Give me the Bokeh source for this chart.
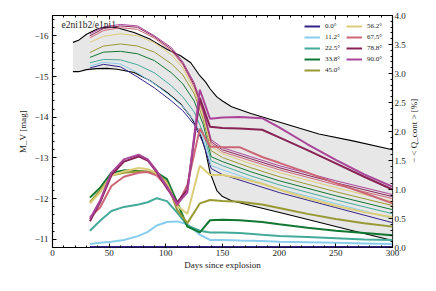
from bokeh.plotting import figure
from bokeh.layouts import row
from bokeh.models import (Range1d, LinearAxis, SingleIntervalTicker, CustomJSTickFormatter,
                          Legend, LegendItem, Label, Div)
from bokeh.embed import file_html
from bokeh.resources import INLINE

# ---------------- data ----------------
angles = ["0.0°", "11.2°", "22.5°", "33.8°", "45.0°", "56.2°", "67.5°", "78.8°", "90.0°"]
colors = ["#332288", "#88CCEE", "#44AA99", "#117733", "#999933",
          "#DDCC77", "#CC6677", "#882255", "#AA4499"]

# envelope (black curves, gray band), magnitudes
env_days = [18, 23, 30, 39, 48, 57, 72, 86, 101, 113, 122, 130, 135, 139, 145, 150, 158, 175, 205, 235, 265, 300]
env_upper = [-15.84, -15.89, -16.04, -16.16, -16.22, -16.20, -16.08, -15.92, -15.67, -15.51, -15.34, -15.02,
             -14.87, -14.70, -14.50, -14.40, -14.26, -14.09, -13.84, -13.59, -13.42, -13.20]
env_lower = [-15.12, -15.12, -15.17, -15.195, -15.20, -15.18, -15.10, -14.90, -14.61, -14.33, -14.01, -13.62,
             -13.18, -12.64, -12.20, -12.05, -11.95, -11.83, -11.63, -11.42, -11.21, -10.97]

# magnitudes per viewing angle (thin lines)
mag_days = [33, 45, 60, 75, 90, 105, 115, 125, 133, 140, 150, 175, 200, 250, 300]
mag_000 = [-15.21, -15.30, -15.24, -14.99, -14.72, -14.40, -14.16, -13.82, -13.37, -12.74, -12.59, -12.37, -12.15, -11.78, -11.41]
mag_112 = [-15.26, -15.35, -15.31, -15.09, -14.82, -14.50, -14.26, -13.91, -13.47, -12.81, -12.71, -12.47, -12.24, -11.88, -11.51]
mag_225 = [-15.34, -15.42, -15.41, -15.29, -15.09, -14.77, -14.50, -14.13, -13.62, -12.93, -12.81, -12.56, -12.34, -11.97, -11.63]
mag_338 = [-15.47, -15.60, -15.62, -15.56, -15.39, -15.09, -14.82, -14.40, -13.82, -13.03, -12.91, -12.66, -12.44, -12.07, -11.73]
mag_450 = [-15.59, -15.75, -15.80, -15.75, -15.60, -15.31, -15.04, -14.58, -13.94, -13.18, -13.01, -12.76, -12.54, -12.17, -11.83]
mag_562 = [-15.84, -15.99, -16.05, -16.00, -15.83, -15.53, -15.21, -14.67, -14.04, -13.28, -13.10, -12.86, -12.64, -12.27, -11.93]
mag_675 = [-15.95, -16.13, -16.20, -16.16, -15.94, -15.63, -15.29, -14.75, -14.11, -13.35, -13.15, -12.93, -12.71, -12.34, -12.00]
mag_788 = [-16.00, -16.18, -16.245, -16.21, -15.975, -15.67, -15.325, -14.80, -14.16, -13.40, -13.20, -12.98, -12.76, -12.39, -12.05]
mag_900 = [-16.05, -16.22, -16.28, -16.245, -16.00, -15.71, -15.36, -14.85, -14.21, -13.45, -13.25, -13.03, -12.81, -12.44, -12.10]

# continuum polarisation -<Q_cont> [%] per viewing angle (thick lines)
q_days = [33, 42, 52, 63, 76, 84, 92, 101, 110, 119, 130, 139, 150, 165, 185, 200, 225, 250, 275, 300]
q_000 = [0.01] * 20
q_112 = [0.06, 0.08, 0.10, 0.13, 0.20, 0.27, 0.38, 0.44, 0.45, 0.40, 0.22, 0.13, 0.13, 0.12, 0.11, 0.10, 0.09, 0.08, 0.07, 0.06]
q_225 = [0.29, 0.46, 0.63, 0.70, 0.74, 0.78, 0.85, 0.80, 0.60, 0.38, 0.29, 0.26, 0.26, 0.25, 0.22, 0.20, 0.18, 0.16, 0.14, 0.13]
q_338 = [0.86, 1.03, 1.29, 1.33, 1.32, 1.30, 1.29, 1.18, 0.78, 0.36, 0.26, 0.47, 0.48, 0.47, 0.44, 0.40, 0.34, 0.29, 0.25, 0.21]
q_450 = [0.78, 0.98, 1.24, 1.29, 1.31, 1.31, 1.29, 1.12, 0.65, 0.42, 0.76, 0.82, 0.80, 0.79, 0.74, 0.68, 0.58, 0.49, 0.42, 0.36]
q_562 = [0.76, 0.95, 1.24, 1.31, 1.37, 1.35, 1.28, 1.10, 0.72, 0.58, 1.41, 1.25, 1.25, 1.20, 1.10, 1.00, 0.85, 0.72, 0.61, 0.52]
q_675 = [0.52, 0.69, 1.06, 1.22, 1.29, 1.30, 1.24, 1.05, 0.72, 1.08, 2.05, 1.74, 1.73, 1.73, 1.56, 1.46, 1.29, 1.11, 0.94, 0.76]
q_788 = [0.45, 0.78, 1.25, 1.48, 1.57, 1.50, 1.30, 1.02, 0.78, 1.00, 2.58, 2.08, 2.06, 2.05, 2.03, 1.90, 1.68, 1.45, 1.22, 1.00]
q_900 = [0.49, 0.81, 1.29, 1.52, 1.60, 1.52, 1.32, 1.05, 0.75, 0.95, 2.72, 2.22, 2.24, 2.25, 2.23, 2.07, 1.78, 1.51, 1.26, 1.05]

mags = [mag_000, mag_112, mag_225, mag_338, mag_450, mag_562, mag_675, mag_788, mag_900]
qs = [q_000, q_112, q_225, q_338, q_450, q_562, q_675, q_788, q_900]

model_label = "e2ni1b2/e1ni1"
x_label = "Days since explosion"
y_label = "M_V [mag]"
y2_label = "− < Q_cont > [%]"

FONT = "Liberation Serif"
FW, FH = 340, 232

# ---------------- figure ----------------
p = figure(frame_width=FW, frame_height=FH, x_range=Range1d(0, 300), y_range=Range1d(-10.8, -16.5),
           output_backend="svg", toolbar_location=None,
           min_border_left=52, min_border_right=13, min_border_top=15, min_border_bottom=40,
           x_axis_location=None, y_axis_location=None)
p.extra_y_ranges = {"q": Range1d(0, 4)}
p.grid.visible = False
p.outline_line_color = "black"
p.outline_line_width = 1.2
p.background_fill_color = "white"
p.border_fill_color = "white"


def style_axis(ax, show_labels=True):
    ax.axis_line_color = None
    ax.major_tick_in = 4
    ax.major_tick_out = 0
    ax.minor_tick_in = 2
    ax.minor_tick_out = 0
    ax.major_tick_line_color = "black"
    ax.minor_tick_line_color = "black"
    ax.major_label_text_font = FONT
    ax.major_label_text_font_size = "9px" if show_labels else "0px"
    ax.major_label_text_color = "#222222"
    ax.axis_label_text_font = FONT
    ax.axis_label_text_font_size = "9px"
    ax.axis_label_text_font_style = "normal"
    ax.axis_label_text_color = "#222222"


xb = LinearAxis(ticker=SingleIntervalTicker(interval=50, num_minor_ticks=5), axis_label=x_label)
style_axis(xb)
xb.major_label_standoff = 2
xb.axis_label_standoff = 1
p.add_layout(xb, "below")

xt = LinearAxis(ticker=SingleIntervalTicker(interval=50, num_minor_ticks=5),
                formatter=CustomJSTickFormatter(code="return ''"))
style_axis(xt, show_labels=False)
xt.major_label_standoff = 0
p.add_layout(xt, "above")

yl = LinearAxis(ticker=SingleIntervalTicker(interval=1, num_minor_ticks=5), axis_label=y_label,
                formatter=CustomJSTickFormatter(code="return (tick < 0 ? '\u2212' : '') + Math.abs(tick).toFixed(0)"))
style_axis(yl)
yl.major_label_standoff = 4
yl.axis_label_standoff = 3
p.add_layout(yl, "left")

yr = LinearAxis(y_range_name="q", ticker=SingleIntervalTicker(interval=0.5, num_minor_ticks=5),
                formatter=CustomJSTickFormatter(code="return tick.toFixed(1)"))
style_axis(yr)
yr.major_label_standoff = 2
p.add_layout(yr, "right")

# envelope
p.varea(x=env_days, y1=env_upper, y2=env_lower, fill_color="#e7e7e7")
p.line(env_days, env_upper, line_color="black", line_width=1.1)
p.line(env_days, env_lower, line_color="black", line_width=1.1)

# magnitudes (thin)
for m, c in zip(mags, colors):
    p.line(mag_days, m, line_color=c, line_width=1.0)

# polarisation (thick)
thick = []
for q, c in zip(qs, colors):
    r = p.line(q_days, q, line_color=c, line_width=2.0, y_range_name="q")
    thick.append(r)

p.add_layout(Label(x=8, y=-16.27, text=model_label, text_font=FONT, text_font_size="9.5px",
                   text_baseline="middle", text_color="#222222"))


def make_legend(idx, loc):
    leg = Legend(items=[LegendItem(label=angles[i], renderers=[thick[i]]) for i in idx], location=loc)
    leg.border_line_color = None
    leg.background_fill_alpha = 0
    leg.padding = 0
    leg.margin = 0
    leg.spacing = 1
    leg.glyph_width = 16
    leg.glyph_height = 10
    leg.label_height = 10
    leg.label_standoff = 5
    leg.label_text_font = FONT
    leg.label_text_font_size = "7px"
    leg.label_text_color = "#222222"
    return leg


p.add_layout(make_legend([0, 1, 2, 3, 4], (252, 172)))
p.add_layout(make_legend([5, 6, 7, 8], (294, 183)))

# right-hand axis title, reading bottom to top
right_title = Div(text=y2_label, width=12, height=FH, margin=(15, 0, 0, 0),
                  styles={"writing-mode": "vertical-rl", "transform": "rotate(180deg)",
                          "text-align": "center", "font-family": FONT, "font-size": "9px",
                          "color": "#222222", "line-height": "12px", "white-space": "nowrap"})

layout = row(p, right_title, spacing=0)
open("out.html", "w").write(file_html(layout, INLINE))
